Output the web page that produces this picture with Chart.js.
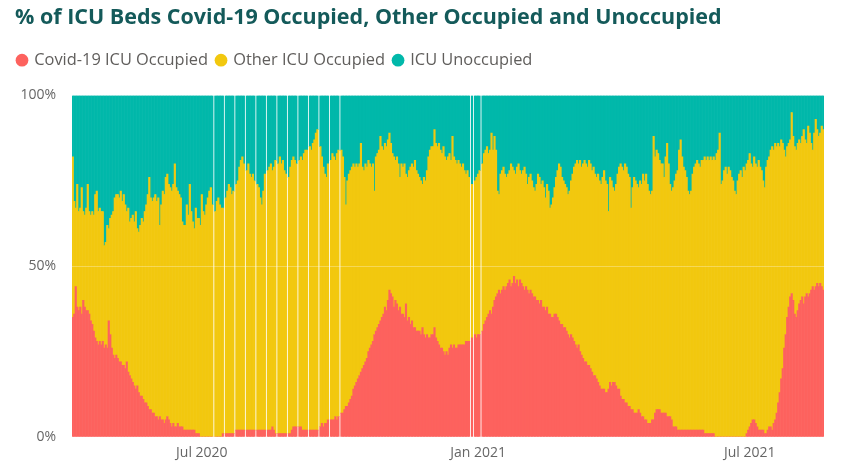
<!DOCTYPE html>
<html lang="en">
<head>
    <meta charset="UTF-8">
    <title>ICU beds</title>
    <script src="https://cdn.jsdelivr.net/npm/chart.js"></script>
    <style>
        body { margin: 0; background: #fff; }
        canvas { display: block; }
    </style>
</head>
<body>
    <canvas id="icuChart" width="843" height="462"></canvas>

    <script>
        // one bar per day, starting here
        const firstDay = '2020-04-04';
        const tickDates = ['2020-07-01', '2021-01-01', '2021-07-01'];
        const tickLabels = ['Jul 2020', 'Jan 2021', 'Jul 2021'];

        // % of ICU beds with a Covid-19 patient (null = no report that day)
        const covidPct = [
            35, 36, 44, 38, 37, 38, 36, 40, 38, 37,
            37, 36, 34, 33, 31, 29, 28, 27, 28, 27,
            28, 26, 27, 26, 34, 30, 26, 24, 23, 24,
            23, 22, 22, 21, 21, 20, 22, 19, 18, 17,
            16, 15, 14, 15, 13, 12, 12, 11, 10, 10,
            9, 8, 8, 7, 7, 6, 6, 5, 6, 5,
            5, 4, 5, 6, 5, 4, 3, 4, 3, 3,
            4, 3, 3, 3, 2, 2, 2, 2, 2, 2,
            2, 2, 1, 1, 1, 0, 0, 0, 0, 0,
            0, 0, 0, 0, null, 0, 0, 0, 0, 0,
            1, null, 1, 1, 1, 1, 1, 1, null, 2,
            2, 2, 2, 2, 2, null, 2, 2, 2, 2,
            2, 2, null, 2, 2, 2, 2, 2, 2, null,
            2, 2, 2, 3, 2, 1, null, 1, 1, 1,
            1, 1, 1, null, 1, 1, 2, 3, 3, 3,
            null, 3, 3, 2, 2, 2, 2, null, 2, 2,
            2, 2, 2, 2, null, 3, 4, 3, 4, 4,
            5, null, 5, 5, 5, 6, 5, 6, null, 7,
            7, 8, 9, 9, 10, 11, 12, 14, 15, 16,
            17, 18, 19, 20, 21, 22, 23, 25, 26, 27,
            28, 30, 31, 32, 33, 34, 35, 36, 38, 37,
            40, 43, 42, 41, 38, 40, 39, 37, 38, 36,
            36, 35, 39, 34, 35, 33, 34, 32, 32, 31,
            31, 31, 30, 32, 30, 29, 30, 29, 29, 30,
            30, 32, 29, 28, 27, 26, 26, 25, 24, 25,
            24, 26, 27, 26, 27, 26, 26, 27, 27, 27,
            27, 27, 28, 28, 28, null, 29, null, 30, 29,
            30, 30, null, 31, 33, 34, 35, 36, 37, 36,
            38, 40, 41, 42, 43, 42, 43, 44, 43, 44,
            45, 46, 44, 45, 47, 45, 46, 44, 46, 45,
            44, 43, 44, 43, 42, 43, 42, 41, 41, 40,
            40, 39, 40, 38, 38, 37, 38, 36, 36, 35,
            35, 36, 36, 35, 34, 33, 33, 32, 32, 31,
            30, 29, 30, 29, 28, 27, 26, 27, 25, 24,
            23, 22, 22, 21, 21, 20, 19, 18, 18, 17,
            16, 15, 14, 14, 14, 13, 13, 14, 16, 15,
            16, 16, 15, 14, 14, 12, 11, 11, 10, 10,
            9, 9, 8, 8, 7, 7, 7, 8, 7, 6,
            6, 5, 5, 4, 4, 4, 5, 5, 7, 8,
            8, 8, 7, 7, 7, 7, 6, 6, 6, 5,
            3, 3, 3, 2, 2, 2, 2, 2, 2, 2,
            2, 2, 2, 2, 2, 2, 2, 2, 2, 2,
            2, 1, 1, 1, 1, 1, 1, 1, 0, 0,
            0, 0, 0, 0, 0, 0, 0, 0, 0, 0,
            0, 0, 0, 0, 0, 0, 0, 0, 0, 1,
            2, 3, 4, 5, 5, 4, 3, 2, 2, 2,
            2, 1, 1, 2, 3, 3, 2, 4, 5, 7,
            10, 13, 17, 20, 26, 30, 35, 38, 41, 42,
            40, 36, 35, 37, 39, 40, 41, 39, 41, 42,
            41, 42, 43, 44, 43, 44, 45, 44, 45, 44,
            43
        ];

        // % of ICU beds occupied by anyone (Covid-19 + other)
        const occupiedPct = [
            82, 69, 67, 74, 66, 67, 73, 66, 65, 67,
            74, 66, 65, 66, 65, 71, 72, 66, 67, 66,
            66, 56, 57, 62, 61, 64, 65, 66, 70, 71,
            71, 70, 72, 69, 71, 68, 66, 67, 63, 64,
            65, 63, 66, 61, 60, 62, 64, 63, 66, 68,
            71, 76, 70, 69, 70, 71, 69, 70, 62, 68,
            72, 71, 76, 77, 74, 73, 72, 74, 80, 73,
            72, 71, 70, 63, 62, 62, 68, 65, 74, 66,
            63, 61, 67, 64, 64, 62, 71, 66, 65, 68,
            70, 72, 73, 68, null, 66, 69, 70, 68, 67,
            67, null, 70, 72, 74, 73, 71, 72, null, 74,
            75, 79, 81, 82, 80, null, 78, 80, 77, 76,
            77, 75, null, 74, 73, 70, 68, 72, 77, null,
            78, 79, 80, 78, 79, 81, null, 80, 82, 80,
            81, 78, 77, null, 76, 79, 81, 82, 81, 80,
            null, 81, 82, 81, 83, 84, 84, null, 85, 84,
            86, 87, 89, 90, null, 85, 82, 79, 77, 76,
            80, null, 81, 83, 82, 81, 83, 84, null, 84,
            82, 76, 68, 75, 77, 78, 79, 80, 79, 80,
            79, 80, 86, 79, 78, 80, 79, 81, 80, 79,
            80, 72, 82, 83, 84, 88, 85, 84, 86, 85,
            87, 89, 86, 83, 82, 81, 82, 80, 76, 80,
            79, 80, 77, 76, 78, 79, 80, 79, 81, 78,
            77, 76, 75, 74, 76, 75, 78, 82, 84, 85,
            85, 90, 86, 85, 86, 84, 83, 85, 82, 81,
            82, 83, 81, 88, 82, 81, 80, 81, 80, 79,
            80, 78, 77, 78, 76, null, 74, null, 75, 76,
            77, 78, null, 80, 83, 84, 85, 83, 84, 89,
            84, 88, 84, 72, 71, 77, 78, 79, 77, 76,
            77, 78, 80, 79, 78, 77, 79, 80, 78, 77,
            78, 79, 77, 74, 76, 77, 75, 73, 72, 74,
            77, 76, 74, 75, 73, 70, 74, 72, 67, 68,
            70, 73, 76, 78, 80, 79, 76, 75, 74, 73,
            71, 72, 75, 77, 79, 80, 81, 80, 81, 79,
            80, 81, 80, 79, 81, 80, 78, 79, 77, 76,
            77, 75, 74, 76, 78, 75, 74, 66, 76, 75,
            73, 72, 74, 77, 79, 80, 79, 78, 80, 79,
            77, 76, 67, 73, 76, 75, 74, 73, 75, 74,
            77, 75, 77, 74, 72, 71, 72, 88, 82, 84,
            83, 81, 80, 80, 76, 82, 86, 80, 74, 72,
            73, 75, 77, 78, 84, 87, 82, 79, 78, 76,
            72, 71, 72, 77, 79, 80, 81, 80, 79, 81,
            81, 82, 81, 82, 81, 82, 81, 82, 81, 83,
            84, 89, 74, 75, 78, 79, 77, 79, 78, 76,
            75, 72, 71, 75, 77, 78, 76, 79, 78, 80,
            81, 83, 80, 79, 82, 80, 79, 81, 79, 78,
            75, 73, 79, 81, 82, 84, 85, 84, 86, 85,
            86, 85, 87, 86, 84, 82, 85, 86, 87, 95,
            88, 85, 84, 86, 87, 86, 88, 90, 87, 86,
            91, 89, 86, 84, 89, 93, 90, 88, 89, 91,
            90
        ];

        const days = covidPct.map((_, i) => {
            const d = new Date(firstDay + 'T00:00:00Z');
            d.setUTCDate(d.getUTCDate() + i);
            return d.toISOString().slice(0, 10);
        });
        const otherPct = occupiedPct.map((v, i) => v === null ? null : v - covidPct[i]);
        const unoccupiedPct = occupiedPct.map(v => v === null ? null : 100 - v);

        // pull the legend row a little left and up, under the title
        const legendNudge = {
            id: 'legendNudge',
            afterLayout(chart) {
                const lg = chart.legend;
                lg.left -= 6; lg.right -= 6;
                lg.top -= 17; lg.bottom -= 17;
            }
        };

        const tickFont = { family: 'Open Sans', size: 14 };

        new Chart(document.getElementById('icuChart'), {
            type: 'bar',
            data: {
                labels: days,
                datasets: [
                    { label: 'Covid-19 ICU Occupied', data: covidPct, backgroundColor: '#FD625E' },
                    { label: 'Other ICU Occupied', data: otherPct, backgroundColor: '#F2C80F' },
                    { label: 'ICU Unoccupied', data: unoccupiedPct, backgroundColor: '#01B8AA' }
                ]
            },
            options: {
                responsive: false,
                animation: false,
                datasets: {
                    bar: { barPercentage: 1, categoryPercentage: 1, borderWidth: 0 }
                },
                layout: { padding: { left: 15, right: 19, top: 0, bottom: 0 } },
                plugins: {
                    title: {
                        display: true,
                        align: 'start',
                        text: '% of ICU Beds Covid-19 Occupied, Other Occupied and Unoccupied',
                        color: '#145A5A',
                        font: { family: 'Open Sans', size: 21.5, weight: 'bold' },
                        padding: { top: 5, bottom: 29.2 }
                    },
                    legend: {
                        align: 'start',
                        labels: {
                            usePointStyle: true,
                            pointStyle: 'circle',
                            boxWidth: 8,
                            boxHeight: 9,
                            padding: 9,
                            color: '#605E5C',
                            font: { family: 'Open Sans', size: 16.4 }
                        }
                    },
                    tooltip: { enabled: false }
                },
                scales: {
                    x: {
                        stacked: true,
                        grid: { display: false, drawTicks: false },
                        border: { display: false },
                        ticks: {
                            autoSkip: false,
                            maxRotation: 0,
                            minRotation: 0,
                            padding: 8,
                            labelOffset: -3,
                            color: '#666',
                            font: tickFont,
                            callback: (value, index) => {
                                const k = tickDates.indexOf(days[index]);
                                return k >= 0 ? tickLabels[k] : null;
                            }
                        },
                        afterFit(scale) { scale.height = 25; }
                    },
                    y: {
                        stacked: true,
                        min: 0,
                        max: 100,
                        border: { display: false },
                        grid: { color: 'rgba(255,255,255,0.3)', drawTicks: false, z: 1 },
                        ticks: {
                            stepSize: 50,
                            padding: 16,
                            color: '#666',
                            font: tickFont,
                            callback: v => v + '%'
                        },
                        afterFit(scale) { scale.width = 57; }
                    }
                }
            },
            plugins: [legendNudge]
        });
    </script>
</body>
</html>
